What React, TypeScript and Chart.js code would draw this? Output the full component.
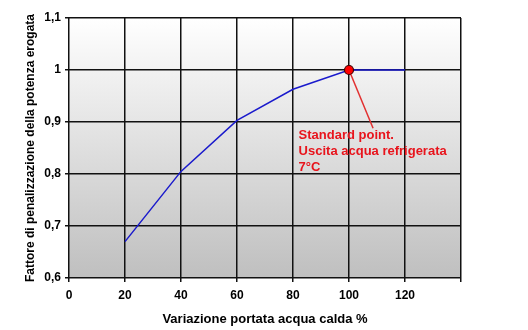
import React, { useEffect, useRef } from "react";
import { Chart, registerables } from "chart.js";

Chart.register(...registerables);

const flowPercent = [20, 40, 60, 80, 100, 120];
const penaltyFactor = [0.67, 0.805, 0.903, 0.963, 1.0, 1.0];
const standardPoint = { x: 100, y: 1.0 };
const annotationLines = ["Standard point.", "Uscita acqua refrigerata", "7°C"];
const xTitle = "Variazione portata acqua calda %";
const yTitle = "Fattore di penalizzazione della potenza erogata";

const bgPlugin = {
  id: "bgGradient",
  beforeDraw(chart: any) {
    const { ctx, chartArea } = chart;
    if (!chartArea) return;
    const g = ctx.createLinearGradient(0, chartArea.top, 0, chartArea.bottom);
    g.addColorStop(0, "#ffffff");
    g.addColorStop(1, "#bfbfbf");
    ctx.save();
    ctx.fillStyle = g;
    ctx.fillRect(chartArea.left, chartArea.top, chartArea.right - chartArea.left, chartArea.bottom - chartArea.top);
    ctx.restore();
  },
};

const annotationPlugin = {
  id: "stdAnnotation",
  afterDatasetsDraw(chart: any) {
    const { ctx, scales } = chart;
    const x = scales.x;
    const y = scales.y;
    const px = x.getPixelForValue(standardPoint.x);
    const py = y.getPixelForValue(standardPoint.y);
    const ex = x.getPixelForValue(108.6);
    const ey = y.getPixelForValue(0.888);
    ctx.save();
    ctx.strokeStyle = "#e23030";
    ctx.lineWidth = 1.5;
    ctx.beginPath();
    ctx.moveTo(px, py);
    ctx.lineTo(ex, ey);
    ctx.stroke();
    ctx.fillStyle = "#e8141c";
    ctx.font = "bold 13px 'Liberation Sans', Arial, sans-serif";
    ctx.textBaseline = "middle";
    ctx.textAlign = "left";
    const tx = x.getPixelForValue(82);
    annotationLines.forEach((t, i) => {
      ctx.fillText(t, tx, y.getPixelForValue(0.8735) + i * 16);
    });
    ctx.beginPath();
    ctx.arc(px, py, 4.5, 0, Math.PI * 2);
    ctx.fillStyle = "#ff0000";
    ctx.fill();
    ctx.lineWidth = 1.2;
    ctx.strokeStyle = "#400000";
    ctx.stroke();
    ctx.restore();
  },
};

export default function App() {
  const ref = useRef<HTMLCanvasElement>(null);
  useEffect(() => {
    document.body.style.margin = "0";
    const font = { family: "'Liberation Sans', Arial, sans-serif", size: 12, weight: "bold" as const };
    const chart = new Chart(ref.current!, {
      type: "line",
      data: {
        datasets: [
          {
            data: flowPercent.map((v, i) => ({ x: v, y: penaltyFactor[i] })),
            borderColor: "#1a1acc",
            borderWidth: 1.5,
            pointRadius: 0,
            tension: 0,
          },
        ],
      },
      options: {
        animation: false,
        responsive: false,
        layout: { padding: { top: 18, right: 67, left: 0, bottom: 0 } },
        plugins: { legend: { display: false }, tooltip: { enabled: false } },
        scales: {
          x: {
            type: "linear",
            min: 0,
            max: 140,
            afterFit: (s: any) => {
              s.height = 52;
            },
            ticks: {
              stepSize: 20,
              color: "#000",
              font,
              padding: 6,
              callback: (v: any) => (v === 140 ? "" : String(v)),
              maxRotation: 0,
            },
            grid: { color: "#111", lineWidth: 1.5, tickLength: 4 },
            border: { display: false },
            title: {
              display: true,
              text: xTitle,
              color: "#000",
              font: { ...font, size: 13 },
              padding: { top: 0, bottom: 3 },
            },
          },
          y: {
            min: 0.6,
            max: 1.1,
            afterFit: (s: any) => {
              s.width = 69;
            },
            ticks: {
              stepSize: 0.1,
              color: "#000",
              font,
              padding: 4,
              callback: (v: any) => {
                const n = Math.round(Number(v) * 10) / 10;
                return Number.isInteger(n) ? String(n) : n.toFixed(1).replace(".", ",");
              },
            },
            grid: { color: "#111", lineWidth: 1.5, tickLength: 4 },
            border: { display: false },
            title: {
              display: true,
              text: yTitle,
              color: "#000",
              font: { ...font, size: 12 },
              padding: { top: 23, bottom: 0 },
            },
          },
        },
      },
      plugins: [bgPlugin, annotationPlugin],
    });
    return () => chart.destroy();
  }, []);
  return (
    <div style={{ width: 528, height: 330, background: "#fff" }}>
      <canvas ref={ref} width={528} height={330} />
    </div>
  );
}
